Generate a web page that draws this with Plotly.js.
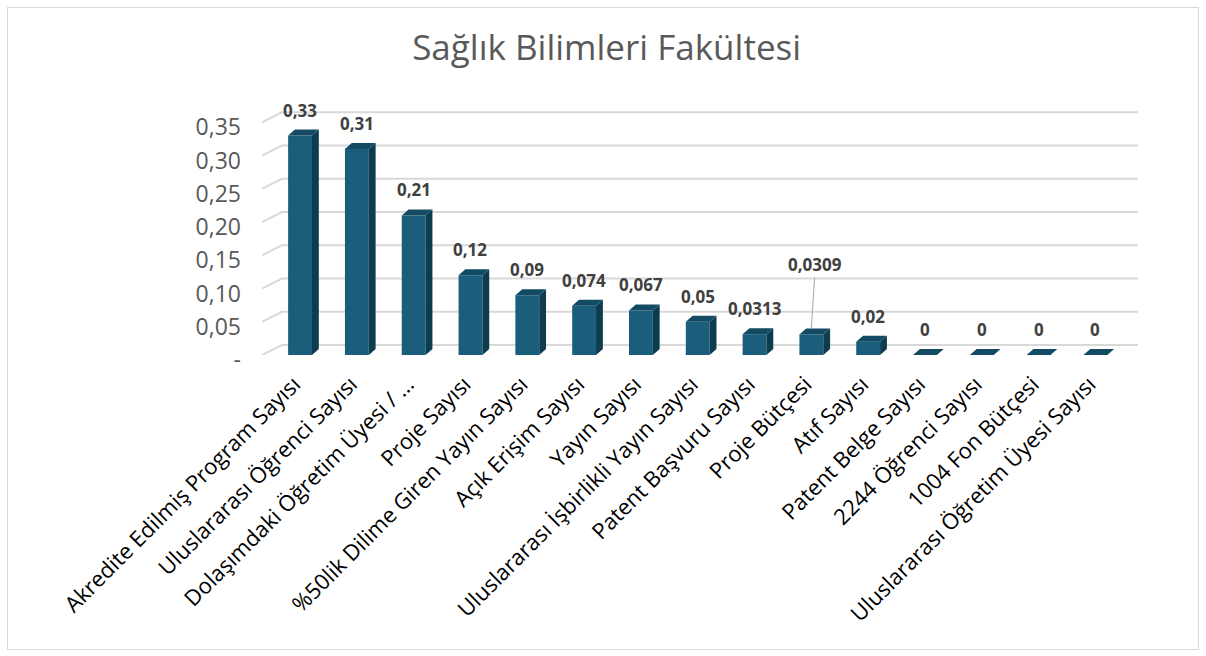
<!DOCTYPE html>
<html>
<head>
<meta charset="utf-8">
<script src="https://cdn.plot.ly/plotly-3.0.1.min.js"></script>
<style>
  html, body { margin: 0; padding: 0; background: #ffffff; }
  #wrap { position: relative; width: 1206px; height: 656px; }
  #chart { width: 1206px; height: 656px; }
  #frame { position: absolute; left: 7px; top: 7px; width: 1190px; height: 641px;
           border: 1px solid #d9d9d9; pointer-events: none; }
</style>
</head>
<body>
<div id="wrap"><div id="chart"></div><div id="frame"></div></div>
<script>
// ---- data ----
const categories = [
  "Akredite Edilmiş Program Sayısı",
  "Uluslararası Öğrenci Sayısı",
  "Dolaşımdaki Öğretim Üyesi / …",
  "Proje Sayısı",
  "%50lik Dilime Giren Yayın Sayısı",
  "Açık Erişim Sayısı",
  "Yayın Sayısı",
  "Uluslararası İşbirlikli Yayın Sayısı",
  "Patent Başvuru Sayısı",
  "Proje Bütçesi",
  "Atıf Sayısı",
  "Patent Belge Sayısı",
  "2244 Öğrenci Sayısı",
  "1004 Fon Bütçesi",
  "Uluslararası Öğretim Üyesi Sayısı"
];
const values = [0.33, 0.31, 0.21, 0.12, 0.09, 0.074, 0.067, 0.05, 0.0313, 0.0309, 0.02, 0, 0, 0, 0];
const valueLabels = ["0,33", "0,31", "0,21", "0,12", "0,09", "0,074", "0,067", "0,05", "0,0313", "0,0309", "0,02", "0", "0", "0", "0"];
const yTickValues = [0, 0.05, 0.10, 0.15, 0.20, 0.25, 0.30, 0.35];
const yTickLabels = ["-", "0,05", "0,10", "0,15", "0,20", "0,25", "0,30", "0,35"];
const leaderIndex = 9;

// ---- style ----
const FONT = "'Open Sans', 'Liberation Sans', Arial, sans-serif";
const frontColor = "#1a5e7c";
const sideColor = "#0e3c4f";
const topColor = "#124b63";
const gridColor = "#d9d9d9";
const halfW = 0.21;    // half width of the bar front face (category units)
const depthX = 0.12;   // bar 3D depth, horizontal (category units)
const depthY = 0.009;  // bar 3D depth, vertical (value units)
const xMin = -0.67, xMax = 14.75, yMax = 0.37;
const wallDX = 0.35;   // back-wall offset, horizontal (category units)
const wallDY = 0.015;  // back-wall offset, vertical (value units)

const idx = categories.map((_, i) => i);

// back-wall gridlines with the short diagonal on the left, built from the tick values
const gridX = [], gridY = [];
yTickValues.forEach(t => {
  gridX.push(xMin, xMin + wallDX, xMax, null);
  gridY.push(t, t + wallDY, t + wallDY, null);
});

// side faces and top faces as filled polygons built from the values
const sideX = [], sideY = [], topX = [], topY = [];
values.forEach((v, i) => {
  sideX.push(i + halfW, i + halfW + depthX, i + halfW + depthX, i + halfW, i + halfW, null);
  sideY.push(0, depthY, v + depthY, v, 0, null);
  topX.push(i - halfW, i + halfW, i + halfW + depthX, i - halfW + depthX, i - halfW, null);
  topY.push(v, v, v + depthY, v + depthY, v, null);
});

const traces = [
  // gridlines on the base subplot (drawn underneath)
  { type: "scatter", mode: "lines", x: gridX, y: gridY, xaxis: "x", yaxis: "y",
    line: { color: gridColor, width: 2 }, hoverinfo: "skip", showlegend: false },
  // bars on the overlaying subplot (drawn on top)
  { type: "bar", x: idx, y: values, width: 2 * halfW, xaxis: "x", yaxis: "y2",
    marker: { color: frontColor, line: { width: 0 } }, hoverinfo: "y", showlegend: false },
  { type: "scatter", mode: "lines", x: sideX, y: sideY, xaxis: "x", yaxis: "y2",
    fill: "toself", fillcolor: sideColor,
    line: { width: 0, color: sideColor }, hoverinfo: "skip", showlegend: false },
  { type: "scatter", mode: "lines", x: topX, y: topY, xaxis: "x", yaxis: "y2",
    fill: "toself", fillcolor: topColor,
    line: { width: 0, color: topColor }, hoverinfo: "skip", showlegend: false }
];

const labelFont = { family: FONT, size: 17, color: "#404040", weight: "bold" };
const annotations = values.map((v, i) => {
  if (i === leaderIndex) {
    return { x: i, y: v + depthY, xref: "x", yref: "y2", text: valueLabels[i],
      showarrow: true, arrowhead: 0, arrowwidth: 1, arrowcolor: "#a6a6a6", ax: 4, ay: -64,
      font: labelFont };
  }
  return { x: i, y: v + depthY, xref: "x", yref: "y2", text: valueLabels[i],
    showarrow: false, yanchor: "bottom", yshift: 6, font: labelFont };
});

const layout = {
  width: 1206, height: 656,
  paper_bgcolor: "rgba(0,0,0,0)", plot_bgcolor: "rgba(0,0,0,0)",
  margin: { l: 262, r: 68, t: 109, b: 301 },
  separators: ",.",
  title: { text: "Sağlık Bilimleri Fakültesi", x: 0.503, xref: "container", xanchor: "center",
    y: 0.927, yref: "container", yanchor: "middle",
    font: { family: FONT, size: 35, color: "#595959" } },
  xaxis: { range: [xMin, xMax], tickmode: "array", tickvals: idx, ticktext: categories,
    tickangle: -45, showgrid: false, zeroline: false, showline: false, ticks: "",
    ticklabelstandoff: 11, ticklabelshift: -6,
    tickfont: { family: FONT, size: 22, color: "#000000" } },
  yaxis: { range: [0, yMax], tickmode: "array", tickvals: yTickValues, ticktext: yTickLabels,
    showgrid: false, zeroline: false, showline: false, ticks: "", ticklabelstandoff: 20,
    ticklabelshift: 5,
    tickfont: { family: FONT, size: 23, color: "#595959" } },
  yaxis2: { overlaying: "y", range: [0, yMax], showticklabels: false, showgrid: false,
    zeroline: false, showline: false, ticks: "" },
  annotations: annotations
};

Plotly.newPlot("chart", traces, layout, { displayModeBar: false, staticPlot: true });
</script>
</body>
</html>
